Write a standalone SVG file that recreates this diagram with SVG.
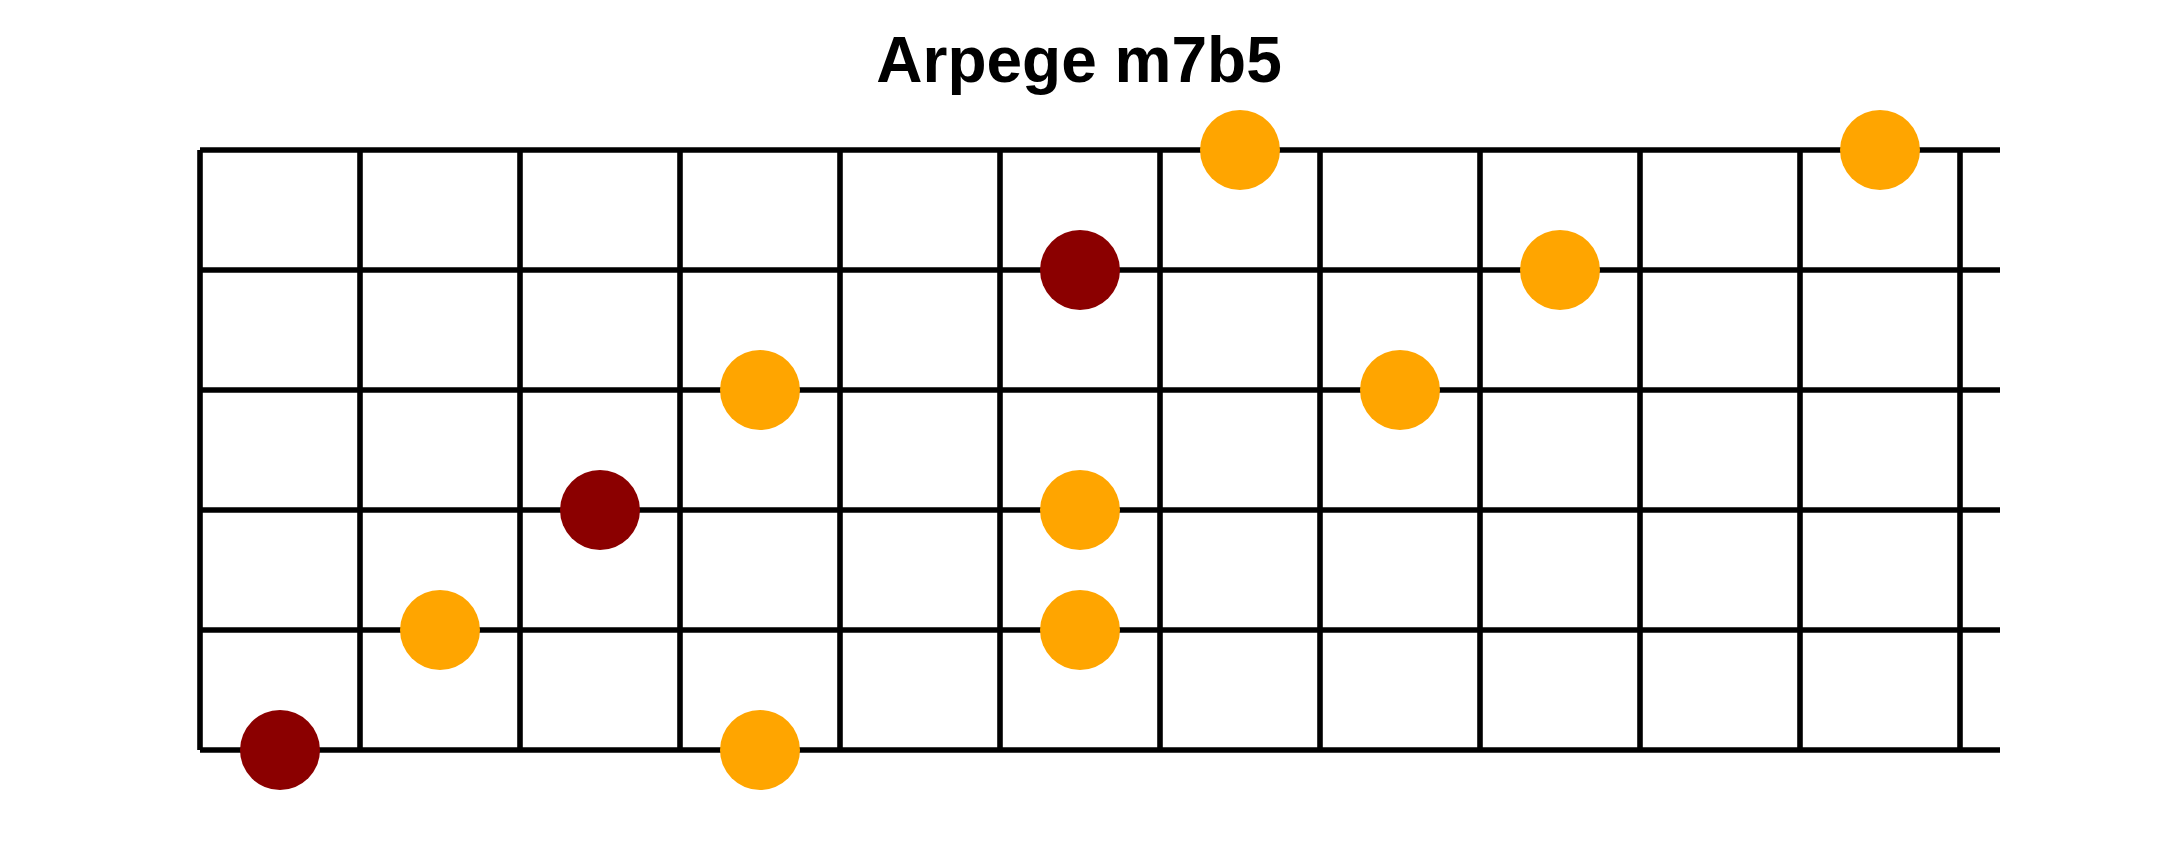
<svg xmlns="http://www.w3.org/2000/svg" width="2160" height="850" viewBox="0 0 2160 850">
<style>
.s{stroke:#000;stroke-width:5.6;fill:none}
.root{fill:#8B0000}
.note{fill:#FFA500}
.t{font-family:"Liberation Sans",Arial,sans-serif;font-weight:bold;font-size:64px;fill:#000}
</style>
<rect width="2160" height="850" fill="#fff"/>
<text class="t" x="1079" y="82" text-anchor="middle">Arpege m7b5</text>
<g id="grid">
<g id="strings" class="s">
<line x1="200" y1="150" x2="2000" y2="150"/>
<line x1="200" y1="270" x2="2000" y2="270"/>
<line x1="200" y1="390" x2="2000" y2="390"/>
<line x1="200" y1="510" x2="2000" y2="510"/>
<line x1="200" y1="630" x2="2000" y2="630"/>
<line x1="200" y1="750" x2="2000" y2="750"/>
</g>
<g id="frets" class="s">
<line x1="200" y1="150" x2="200" y2="750"/>
<line x1="360" y1="150" x2="360" y2="750"/>
<line x1="520" y1="150" x2="520" y2="750"/>
<line x1="680" y1="150" x2="680" y2="750"/>
<line x1="840" y1="150" x2="840" y2="750"/>
<line x1="1000" y1="150" x2="1000" y2="750"/>
<line x1="1160" y1="150" x2="1160" y2="750"/>
<line x1="1320" y1="150" x2="1320" y2="750"/>
<line x1="1480" y1="150" x2="1480" y2="750"/>
<line x1="1640" y1="150" x2="1640" y2="750"/>
<line x1="1800" y1="150" x2="1800" y2="750"/>
<line x1="1960" y1="150" x2="1960" y2="750"/>
</g>
</g>
<g id="notes">
<circle id="n1" class="root" cx="280" cy="750" r="40"/>
<circle id="n2" class="note" cx="440" cy="630" r="40"/>
<circle id="n3" class="root" cx="600" cy="510" r="40"/>
<circle id="n4" class="note" cx="760" cy="390" r="40"/>
<circle id="n5" class="note" cx="760" cy="750" r="40"/>
<circle id="n6" class="root" cx="1080" cy="270" r="40"/>
<circle id="n7" class="note" cx="1080" cy="510" r="40"/>
<circle id="n8" class="note" cx="1080" cy="630" r="40"/>
<circle id="n9" class="note" cx="1240" cy="150" r="40"/>
<circle id="n10" class="note" cx="1400" cy="390" r="40"/>
<circle id="n11" class="note" cx="1560" cy="270" r="40"/>
<circle id="n12" class="note" cx="1880" cy="150" r="40"/>
</g>
</svg>
